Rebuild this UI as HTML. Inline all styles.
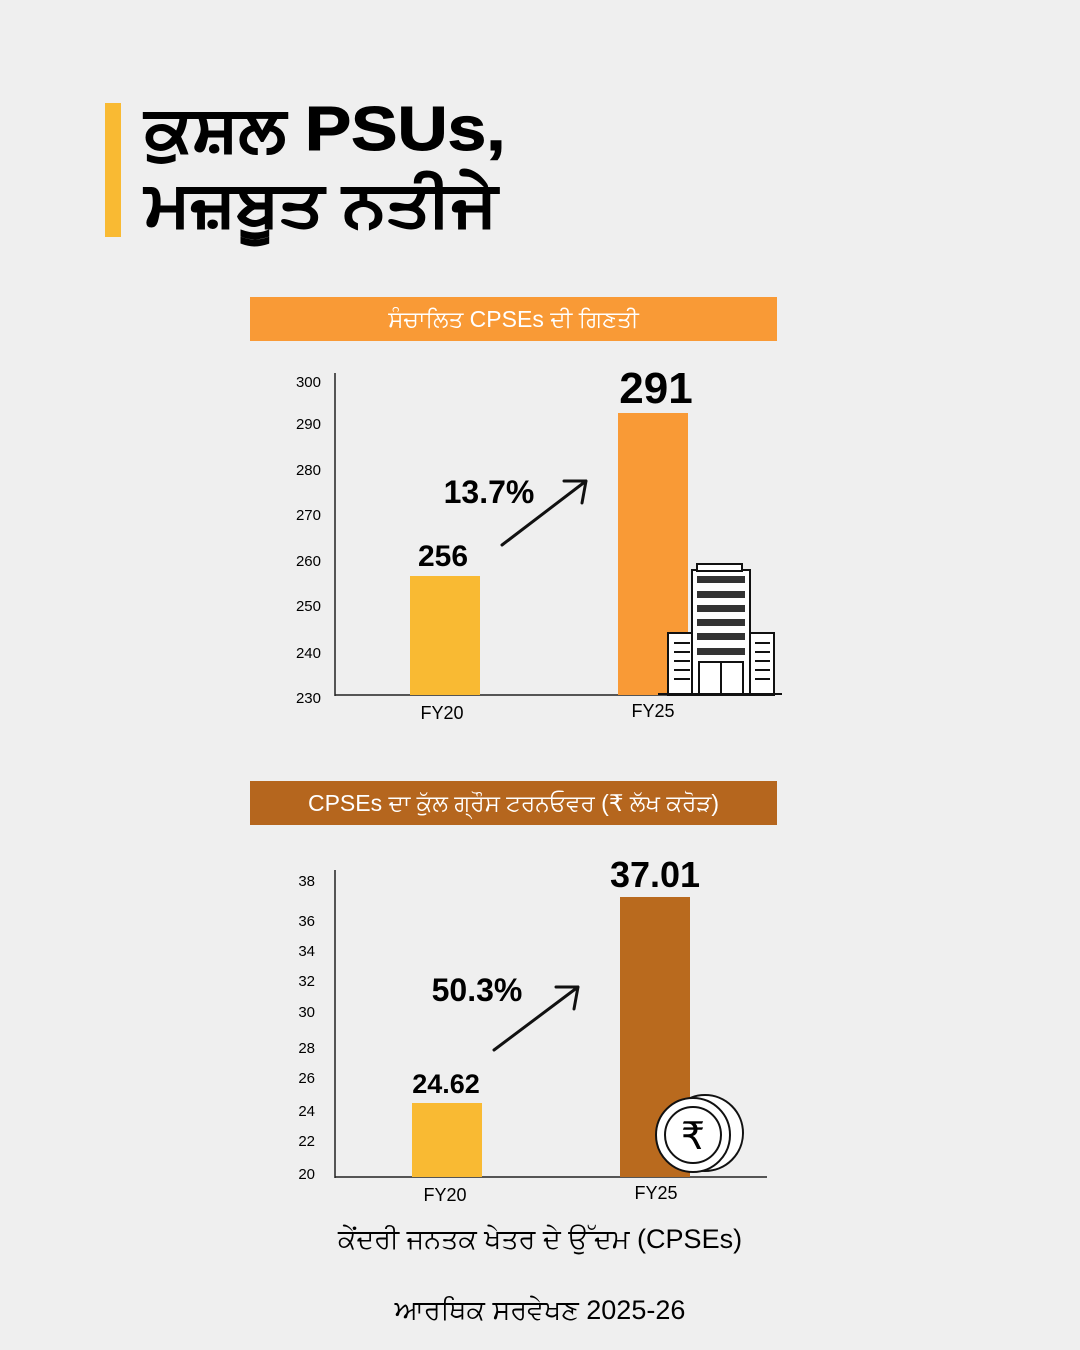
<!DOCTYPE html>
<html><head><meta charset="utf-8"><style>
body{margin:0;width:1080px;height:1350px;background:#efefef;position:relative;overflow:hidden;font-family:"Liberation Sans","DejaVu Sans",sans-serif;color:#000}
.a{position:absolute;white-space:nowrap}
.hd{position:absolute;left:250px;width:527px;height:44px;color:#fff;font-size:23px;text-align:center;line-height:44px}
</style></head><body>
<div class="a" style="left:105px;top:103px;width:16px;height:134px;background:#f9ba33"></div>
<div class="a" style="left:145px;top:92px;font-size:62px;font-weight:bold;line-height:75px;transform:scaleX(1.12);transform-origin:left top;-webkit-text-stroke:1px #000">ਕੁਸ਼ਲ PSUs,<br>ਮਜ਼ਬੂਤ ਨਤੀਜੇ</div>
<div class="hd" style="top:297px;background:#f99a36">ਸੰਚਾਲਿਤ CPSEs ਦੀ ਗਿਣਤੀ</div>
<div class="hd" style="top:781px;background:#b5661e">CPSEs ਦਾ ਕੁੱਲ ਗ੍ਰੌਸ ਟਰਨਓਵਰ (₹ ਲੱਖ ਕਰੋੜ)</div>
<svg class="a" style="left:0;top:0" width="1080" height="1350" font-family="Liberation Sans, sans-serif">
<g stroke="#222" stroke-width="1.5"><line x1="335" y1="373" x2="335" y2="696"/><line x1="335" y1="695" x2="765" y2="695"/>
<line x1="335" y1="870" x2="335" y2="1178"/><line x1="335" y1="1177" x2="767" y2="1177"/></g>
<g font-size="15" text-anchor="end">
<text x="321" y="387">300</text><text x="321" y="429">290</text><text x="321" y="475">280</text><text x="321" y="520">270</text><text x="321" y="566">260</text><text x="321" y="611">250</text><text x="321" y="658">240</text><text x="321" y="703">230</text>
<text x="315" y="886">38</text><text x="315" y="926">36</text><text x="315" y="956">34</text><text x="315" y="986">32</text><text x="315" y="1017">30</text><text x="315" y="1053">28</text><text x="315" y="1083">26</text><text x="315" y="1116">24</text><text x="315" y="1146">22</text><text x="315" y="1179">20</text></g>
<rect x="410" y="576" width="70" height="119" fill="#f9ba33"/>
<rect x="618" y="413" width="70" height="282" fill="#f99a36"/>
<rect x="412" y="1103" width="70" height="74" fill="#f9ba33"/>
<rect x="620" y="897" width="70" height="280" fill="#b96a1e"/>
<g text-anchor="middle" font-weight="bold">
<text x="443" y="566" font-size="30">256</text><text x="656" y="403" font-size="44">291</text>
<text x="489" y="503" font-size="32">13.7%</text>
<text x="446" y="1093" font-size="27">24.62</text><text x="655" y="887" font-size="36">37.01</text>
<text x="477" y="1001" font-size="32">50.3%</text></g>
<g font-size="18" text-anchor="middle"><text x="442" y="719">FY20</text><text x="653" y="717">FY25</text><text x="445" y="1201">FY20</text><text x="656" y="1199">FY25</text></g>
<g stroke="#111" stroke-width="3" fill="none" stroke-linecap="round" stroke-linejoin="round">
<path d="M502 545 L586 481 M564 481 L586 481 L582 503"/>
<path d="M494 1050 L578 987 M556 987 L578 987 L574 1009"/></g>
<g stroke="#111" stroke-width="2" fill="#fff">
<rect x="668" y="633" width="30" height="62"/><rect x="750" y="633" width="24" height="62"/>
<rect x="692" y="570" width="58" height="125"/><rect x="697" y="564" width="45" height="7"/>
<line x1="658" y1="694" x2="782" y2="694"/></g>
<g fill="#333"><rect x="697" y="576" width="48" height="7"/><rect x="697" y="591" width="48" height="7"/><rect x="697" y="605" width="48" height="7"/><rect x="697" y="619" width="48" height="7"/><rect x="697" y="633" width="48" height="7"/><rect x="697" y="648" width="48" height="7"/></g>
<g stroke="#111" stroke-width="2"><line x1="674" y1="643" x2="690" y2="643"/><line x1="674" y1="652" x2="690" y2="652"/><line x1="674" y1="661" x2="690" y2="661"/><line x1="674" y1="670" x2="690" y2="670"/><line x1="674" y1="679" x2="690" y2="679"/>
<line x1="755" y1="643" x2="770" y2="643"/><line x1="755" y1="652" x2="770" y2="652"/><line x1="755" y1="661" x2="770" y2="661"/><line x1="755" y1="670" x2="770" y2="670"/><line x1="755" y1="679" x2="770" y2="679"/>
<rect x="699" y="662" width="44" height="32" fill="none"/><line x1="721" y1="662" x2="721" y2="694"/></g>
<g stroke="#111" stroke-width="2"><circle cx="705" cy="1133" r="38" fill="#fff"/><circle cx="693" cy="1135" r="37" fill="#fff"/><circle cx="693" cy="1135" r="28" fill="none"/></g>
<text x="693" y="1149" font-size="38" text-anchor="middle" font-family="DejaVu Sans, sans-serif">₹</text>
</svg>
<div class="a" style="left:0;width:1080px;top:1224px;text-align:center;font-size:27px">ਕੇਂਦਰੀ ਜਨਤਕ ਖੇਤਰ ਦੇ ਉੱਦਮ (CPSEs)</div>
<div class="a" style="left:0;width:1080px;top:1295px;text-align:center;font-size:27px">ਆਰਥਿਕ ਸਰਵੇਖਣ 2025-26</div>
</body></html>
